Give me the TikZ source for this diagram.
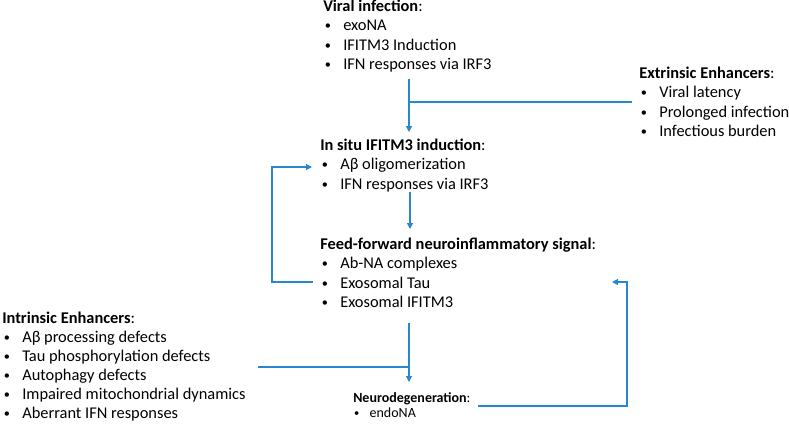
\documentclass[tikz,border=0pt]{standalone}
\usepackage{fontspec}
\setmainfont{Carlito}
\usetikzlibrary{arrows.meta}
\definecolor{lnblue}{RGB}{40,135,205}
\newcommand\dotb{\raisebox{0.6pt}{\scalebox{0.75}{•}}}
\newcommand\bl[1]{\makebox[15pt][l]{\hspace{1.2pt}\dotb}#1}
\newcommand\bls[1]{\makebox[12.3pt][l]{\hspace{0.6pt}\dotb}#1}
\begin{document}
\begin{tikzpicture}[x=0.75pt,y=-0.75pt,
  txt/.style={anchor=base west,inner sep=0pt,font=\fontsize{12.3}{14}\selectfont},
  smalltxt/.style={anchor=base west,inner sep=0pt,font=\fontsize{10.5}{12}\selectfont},
  conn/.style={draw=lnblue,line width=0.9pt},
  arr/.style={conn,-{Triangle[length=4.5pt,width=4.5pt]}}]
\useasboundingbox (0,0) rectangle (789,425);

% Viral infection
\node[txt] (v0) at (323,11) {\textbf{Viral infection}:};
\node[txt] (v1) at (323,30.5) {\bl{exoNA}};
\node[txt] (v2) at (323,50) {\bl{IFITM3 Induction}};
\node[txt] (v3) at (323,69.5) {\bl{IFN responses via IRF3}};

% Extrinsic
\node[txt] (e0) at (639,78) {\textbf{Extrinsic Enhancers}:};
\node[txt] (e1) at (639,97.5) {\bl{Viral latency}};
\node[txt] (e2) at (639,117) {\bl{Prolonged infection}};
\node[txt] (e3) at (639,136.5) {\bl{Infectious burden}};

% In situ
\node[txt] (s0) at (320,150) {\textbf{In situ IFITM3 induction}:};
\node[txt] (s1) at (320,169.5) {\bl{Aβ oligomerization}};
\node[txt] (s2) at (320,189) {\bl{IFN responses via IRF3}};

% Feed-forward
\node[txt] (f0) at (320,249) {\textbf{Feed-forward neuroinflammatory signal}:};
\node[txt] (f1) at (320,268.5) {\bl{Ab-NA complexes}};
\node[txt] (f2) at (320,288) {\bl{Exosomal Tau}};
\node[txt] (f3) at (320,307.5) {\bl{Exosomal IFITM3}};

% Intrinsic
\node[txt] (i0) at (2,323) {\textbf{Intrinsic Enhancers}:};
\node[txt] (i1) at (2,342) {\bl{Aβ processing defects}};
\node[txt] (i2) at (2,361) {\bl{Tau phosphorylation defects}};
\node[txt] (i3) at (2,380) {\bl{Autophagy defects}};
\node[txt] (i4) at (2,399) {\bl{Impaired mitochondrial dynamics}};
\node[txt] (i5) at (2,418) {\bl{Aberrant IFN responses}};

% Neurodegeneration
\node[smalltxt] (n0) at (353,402) {\textbf{Neurodegeneration}:};
\node[smalltxt] (n1) at (353,417) {\bls{endoNA}};

% connector coordinates
\coordinate (a1s) at (409,79);
\coordinate (a1e) at (409,132);
\coordinate (j1) at (409,102);
\coordinate (ext) at (632,102);
\coordinate (a2s) at (410,192);
\coordinate (a2e) at (410,229);
\coordinate (fbl1) at (313,282);
\coordinate (fbl2) at (272,282);
\coordinate (fbl3) at (272,167);
\coordinate (fbl4) at (312,167);
\coordinate (a3s) at (409,323);
\coordinate (a3e) at (409,382);
\coordinate (j2) at (409,367);
\coordinate (int) at (258,367);
\coordinate (fbr1) at (478,406);
\coordinate (fbr2) at (627,406);
\coordinate (fbr3) at (627,282);
\coordinate (fbr4) at (612,282);

\draw[arr] (a1s) -- (a1e);
\draw[conn] (ext) -- (j1);
\draw[arr] (a2s) -- (a2e);
\draw[arr] (fbl1) -- (fbl2) -- (fbl3) -- (fbl4);
\draw[arr] (a3s) -- (a3e);
\draw[conn] (int) -- (j2);
\draw[arr] (fbr1) -- (fbr2) -- (fbr3) -- (fbr4);
\end{tikzpicture}
\end{document}
